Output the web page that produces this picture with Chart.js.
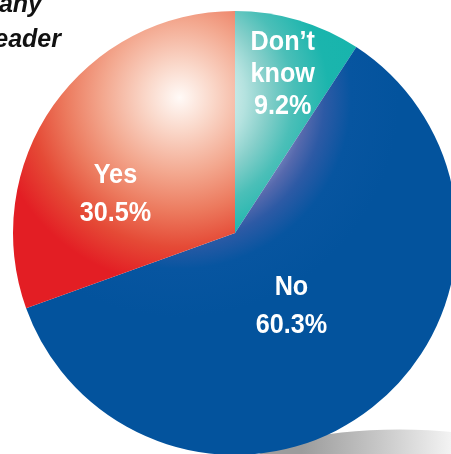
<!DOCTYPE html>
<html>
<head>
<meta charset="utf-8">
<script src="https://cdn.jsdelivr.net/npm/chart.js@4.4.1/dist/chart.umd.min.js"></script>
<style>
    html, body { margin: 0; padding: 0; background: #ffffff; overflow: hidden; }
    #wrap { position: absolute; left: 0; top: 0; }
</style>
</head>
<body>
<div id="wrap"><canvas id="pieChart" width="470" height="466"></canvas></div>
<script>
// Survey answers, clockwise from 12 o'clock
const answers = ["Don\u2019t know", "No", "Yes"];
const shares = [9.2, 60.3, 30.5];
const headingLines = ["company", "leader"];

// Radial shading per slice: [offset, colour], all lit from the same spot
const shading = [
    [[0, '#ffffff'], [0.2, '#d6efed'], [0.3, '#b4e2df'], [0.4, '#86cfca'], [0.52, '#4bbfb8'], [0.68, '#1bb5ad'], [1, '#13b4ac']],
    [[0, '#c4cbe6'], [0.5, '#8291c6'], [0.58, '#5669ad'], [0.66, '#2d5aa5'], [0.78, '#0755a0'], [1, '#03539d']],
    [[0, '#fffaf7'], [0.15, '#fad8ca'], [0.35, '#f3a78e'], [0.52, '#ec7a5e'], [0.68, '#e54a36'], [0.85, '#e31e24'], [1, '#e31e24']]
];
const flatColours = ['#13b4ac', '#03539d', '#e31e24'];

// label placement: fraction of radius from centre, angle nudge in degrees
const labelSpots = [
    { r: 0.755, da: 0 },
    { r: 0.41, da: 0 },
    { r: 0.57, da: -16 }
];

function pieGeometry(chart) {
    const a = chart.chartArea;
    const cx = (a.left + a.right) / 2;
    const cy = (a.top + a.bottom) / 2;
    const r = Math.min(a.right - a.left, a.bottom - a.top) / 2;
    return { cx, cy, r };
}

function sliceFill(context) {
    const chart = context.chart;
    const i = context.dataIndex;
    if (!chart.chartArea) return flatColours[i];
    const g = pieGeometry(chart);
    const hx = g.cx - 0.25 * g.r;
    const hy = g.cy - 0.61 * g.r;
    const grad = chart.ctx.createRadialGradient(hx, hy, 0, hx, hy, g.r * 0.99);
    shading[i].forEach(function(s) { grad.addColorStop(s[0], s[1]); });
    return grad;
}

// soft grey shadow that peeks out from under the pie at the bottom right
const pieShadow = {
    id: 'pieShadow',
    beforeDatasetsDraw: function(chart) {
        const g = pieGeometry(chart);
        const ctx = chart.ctx;
        const sx = g.cx + 0.74 * g.r;
        const sy = g.cy + 1.06 * g.r;
        ctx.save();
        const lin = ctx.createLinearGradient(g.cx + 0.3 * g.r, 0, g.cx + 0.98 * g.r, 0);
        lin.addColorStop(0, '#9c9c9c');
        lin.addColorStop(0.5, '#c6c6c6');
        lin.addColorStop(1, '#f4f4f4');
        ctx.fillStyle = lin;
        ctx.beginPath();
        ctx.ellipse(sx, sy, 0.68 * g.r, 0.175 * g.r, 0, 0, Math.PI * 2);
        ctx.fill();
        ctx.restore();
    }
};

// squeezed bold text, close to a condensed face
function condensedText(ctx, text, x, y, squeeze) {
    ctx.save();
    ctx.translate(x, y);
    ctx.scale(squeeze, 1);
    ctx.fillText(text, 0, 0);
    ctx.restore();
}

// white slice labels plus the heading in the top left corner
const sliceLabels = {
    id: 'sliceLabels',
    afterDatasetsDraw: function(chart) {
        const ctx = chart.ctx;
        const g = pieGeometry(chart);
        const arcs = chart.getDatasetMeta(0).data;
        ctx.save();
        ctx.fillStyle = '#ffffff';
        ctx.textAlign = 'center';
        ctx.textBaseline = 'alphabetic';
        ctx.font = "bold 28px 'Liberation Sans', Arial, sans-serif";
        arcs.forEach(function(arc, i) {
            const spot = labelSpots[i];
            const mid = (arc.startAngle + arc.endAngle) / 2 + spot.da * Math.PI / 180;
            const x = g.cx + Math.cos(mid) * spot.r * g.r;
            const y = g.cy + Math.sin(mid) * spot.r * g.r;
            const words = answers[i].split(' ');
            const lines = words.concat([shares[i].toFixed(1) + '%']);
            const lh = lines.length > 2 ? 32 : 38;
            const top = y - (lines.length - 1) * lh / 2 + 10;
            lines.forEach(function(t, k) {
                condensedText(ctx, t, x, top + k * lh, 0.9);
            });
        });

        ctx.fillStyle = '#111111';
        ctx.textAlign = 'right';
        ctx.font = "italic bold 25px 'Liberation Sans', Arial, sans-serif";
        ctx.fillText(headingLines[0], 42, 12);
        ctx.fillText(headingLines[1], 61, 47);
        ctx.restore();
    }
};

new Chart(document.getElementById('pieChart'), {
    type: 'pie',
    data: {
        labels: answers,
        datasets: [{
            data: shares,
            backgroundColor: sliceFill,
            borderWidth: 0
        }]
    },
    options: {
        responsive: false,
        animation: false,
        layout: { padding: 11 },
        plugins: {
            legend: { display: false },
            tooltip: { enabled: false }
        }
    },
    plugins: [pieShadow, sliceLabels]
});
</script>
</body>
</html>
